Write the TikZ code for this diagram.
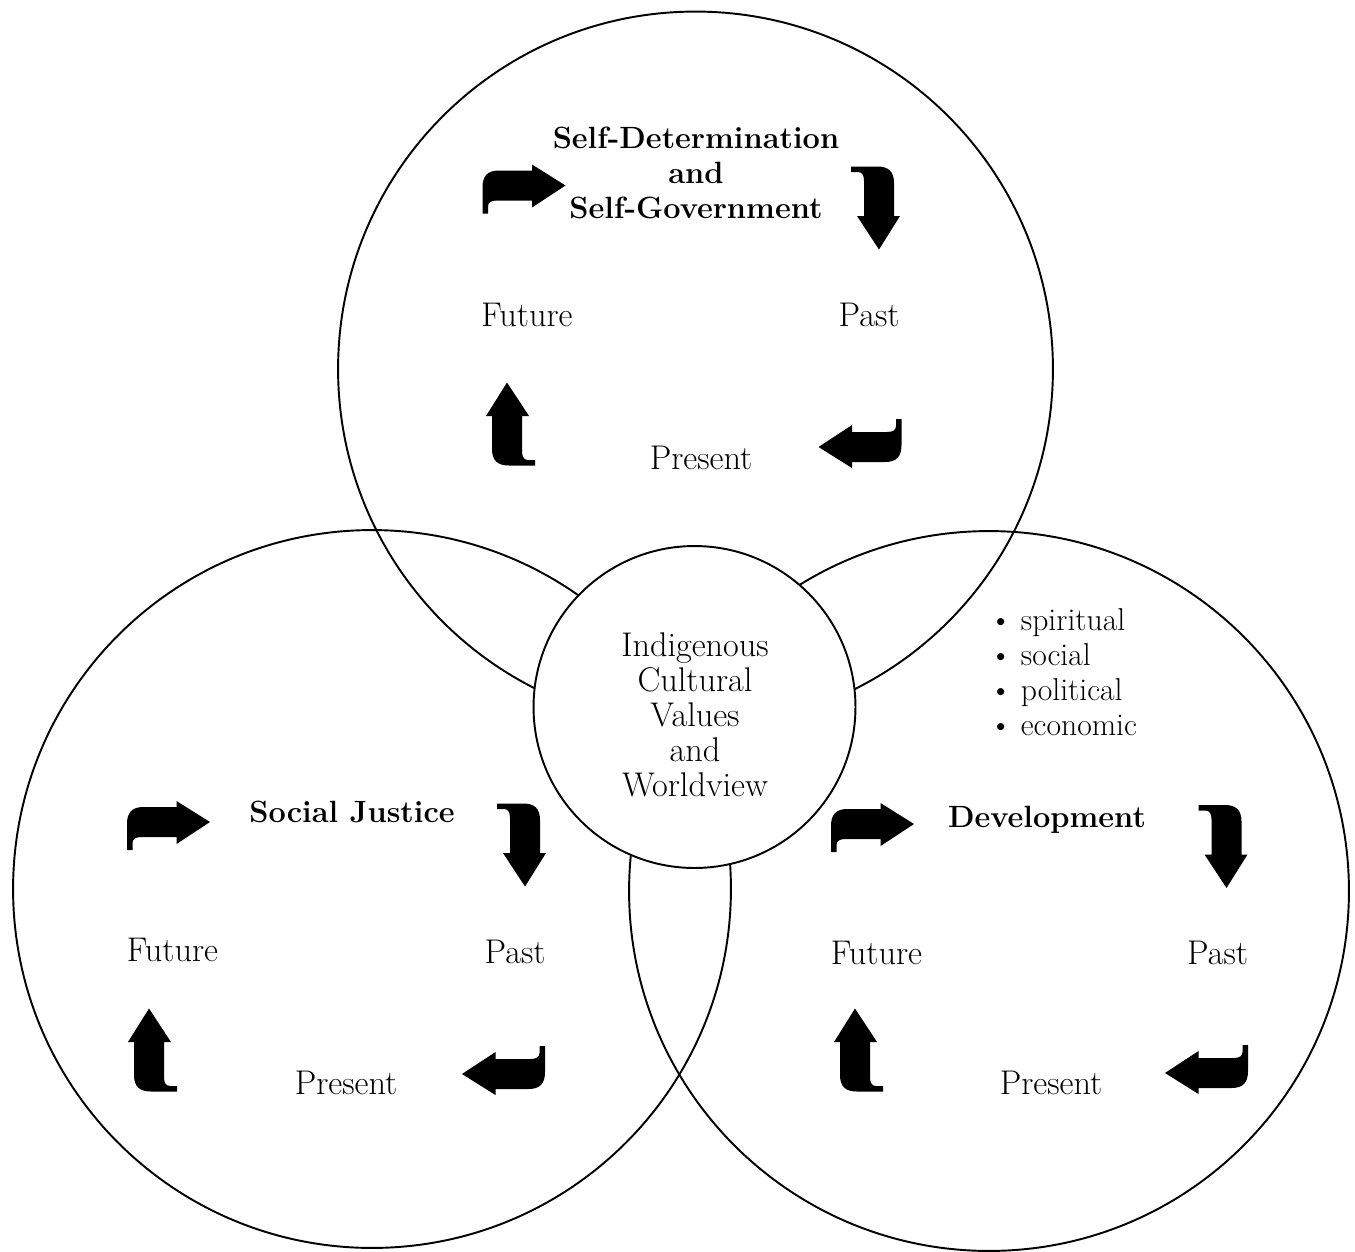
\documentclass[tikz,border=0pt]{standalone}
\usepackage{tikz}
\usetikzlibrary{positioning}

\tikzset{
  bentarrow/.pic={
    \fill (41.5,-4) -- (8,-25) -- (8,-19) -- (-25,-19)
      .. controls (-37,-19) and (-41.5,-13) .. (-41.5,-2)
      -- (-41.5,24) -- (-36,24) -- (-36,17)
      .. controls (-36,13) and (-33,11) .. (-27,11)
      -- (8,11) -- (8,18) -- cycle;
  }
}

\begin{document}
\begin{tikzpicture}[x=0.02cm,y=-0.02cm,
ring/.style={draw,circle,line width=1.1pt,inner sep=0pt},
word/.style={inner sep=0pt,align=center,font=\fontsize{19.5}{20}\selectfont},
title/.style={inner sep=0pt,align=center,font=\fontsize{17.5}{20}\selectfont\bfseries}
]
\useasboundingbox (0,0) rectangle (1355,1251);

% the three circles
\node[ring,minimum size=14.3cm] (selfdet) at (695.5,369) {};
\node[ring,minimum size=14.36cm] (justice) at (372,889) {};
\node[ring,minimum size=14.4cm] (develop) at (989,891) {};
% centre circle
\node[ring,fill=white,minimum size=6.44cm] (core) at (694.5,707) {};
\node[word] (coretext) at (695,715) {Indigenous\\Cultural\\Values\\and\\Worldview};

% top circle
\node[title] (selfdettitle) at (696,173) {Self-Determination\\and\\Self-Government};
\node[word] (selfdetfuture) at (527,315) {Future};
\node[word] (selfdetpast) at (869,315) {Past};
\node[word] (selfdetpresent) at (701,458) {Present};
\pic at (524,189.5) {bentarrow};
\pic[rotate=-90] at (875,208) {bentarrow};
\pic[rotate=180] at (860,443) {bentarrow};
\pic[rotate=90] at (511,424) {bentarrow};

% left circle
\node[title] (justicetitle) at (352,812) {Social Justice};
\node[word] (justicefuture) at (172.5,950) {Future};
\node[word] (justicepast) at (515,952) {Past};
\node[word] (justicepresent) at (346,1083) {Present};
\pic at (168.5,826) {bentarrow};
\pic[rotate=-90] at (521,845) {bentarrow};
\pic[rotate=180] at (503.5,1070) {bentarrow};
\pic[rotate=90] at (153,1050) {bentarrow};

% right circle
\node[title] (developtitle) at (1047,820) {Development};
\node[word,align=left,anchor=west,font=\fontsize{18}{20}\selectfont] (developlist) at (989,672)
  {\textbullet\kern5pt spiritual\\\textbullet\kern5pt social\\\textbullet\kern5pt political\\\textbullet\kern5pt economic};
\node[word] (developfuture) at (876.5,953) {Future};
\node[word] (developpast) at (1217.5,953) {Past};
\node[word] (developpresent) at (1051,1083) {Present};
\pic at (872.5,828) {bentarrow};
\pic[rotate=-90] at (1222.5,846.5) {bentarrow};
\pic[rotate=180] at (1206.5,1069) {bentarrow};
\pic[rotate=90] at (859,1050) {bentarrow};
\end{tikzpicture}
\end{document}
